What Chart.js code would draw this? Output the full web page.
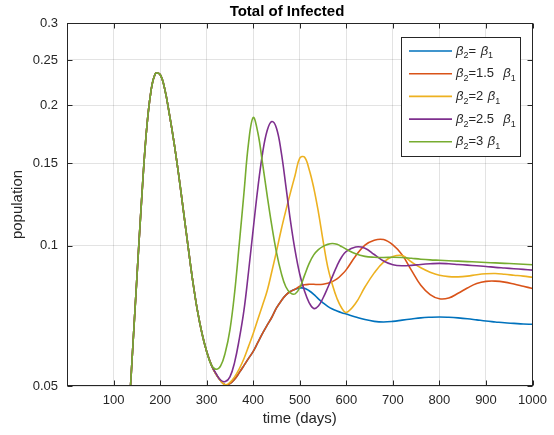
<!DOCTYPE html>
<html>
<head>
<meta charset="utf-8">
<script src="https://cdn.jsdelivr.net/npm/chart.js@4"></script>
<style>
  body { margin: 0; background: #fff; }
  canvas { display: block; }
</style>
</head>
<body>
<canvas id="infectedChart" width="554" height="435"></canvas>
<script>
// time grid (days)
const days = [0, 50, 100, 120, 130, 140, 150, 160, 170, 180, 190, 200, 210, 220, 230, 240, 250, 260, 270, 280, 290, 300, 310,
  320, 330, 340, 350, 360, 370, 380, 390, 400, 410, 420, 430, 440, 450, 460, 470, 480, 490, 500, 510, 520, 530, 540, 550,
  560, 570, 580, 590, 600, 620, 640, 660, 680, 700, 720, 740, 760, 780, 800, 820, 840, 860, 880, 900, 920, 940, 960, 980, 1000];

// first wave is the same for every beta2 (t = 0 .. 310)
const firstWave = [0.002, 0.005, 0.015, 0.027, 0.0389, 0.0575, 0.0849, 0.1242, 0.1728, 0.2131, 0.2337, 0.2327, 0.2164,
  0.1910, 0.1660, 0.1415, 0.1188, 0.0997, 0.0841, 0.0727, 0.0648, 0.0593, 0.0555];

// t = 320 .. 1000
const beta1x = [0.0530, 0.0513, 0.0503, 0.0506, 0.0517, 0.0534, 0.0553, 0.0573, 0.0593, 0.0620, 0.0648, 0.0675, 0.0702,
  0.0735, 0.0761, 0.0783, 0.0797, 0.0806, 0.0811, 0.0810, 0.0800, 0.0786, 0.0769, 0.0754, 0.0741, 0.0731, 0.0724, 0.0718,
  0.0713, 0.0703, 0.0694, 0.0688, 0.0686, 0.0688, 0.0692, 0.0696, 0.0700, 0.0702, 0.0703, 0.0702, 0.0700, 0.0697, 0.0693,
  0.0689, 0.0686, 0.0683, 0.0681, 0.0679, 0.0678];
const beta15x = [0.0530, 0.0513, 0.0503, 0.0506, 0.0517, 0.0534, 0.0553, 0.0573, 0.0593, 0.0620, 0.0648, 0.0675, 0.0702,
  0.0735, 0.0761, 0.0783, 0.0797, 0.0806, 0.0818, 0.0824, 0.0826, 0.0826, 0.0825, 0.0826, 0.0830, 0.0837, 0.0848, 0.0866,
  0.0888, 0.0950, 0.1002, 0.1027, 0.1030, 0.1003, 0.0955, 0.0885, 0.0822, 0.0785, 0.0769, 0.0772, 0.0790, 0.0811, 0.0829,
  0.0838, 0.0839, 0.0835, 0.0827, 0.0818, 0.0809];
const beta2x = [0.0530, 0.0513, 0.0503, 0.0509, 0.0523, 0.0544, 0.0572, 0.0608, 0.0648, 0.0695, 0.0745, 0.0800, 0.0880,
  0.0972, 0.1080, 0.1188, 0.1299, 0.1415, 0.1540, 0.1548, 0.1458, 0.1330, 0.1180, 0.1025, 0.0900, 0.0825, 0.0770, 0.0735,
  0.0719, 0.0752, 0.0815, 0.0874, 0.0922, 0.0947, 0.0952, 0.0922, 0.0896, 0.0877, 0.0864, 0.0858, 0.0857, 0.0860, 0.0866,
  0.0870, 0.0871, 0.0868, 0.0864, 0.0860, 0.0855];
const beta25x = [0.0532, 0.0515, 0.0511, 0.0523, 0.0562, 0.0630, 0.0725, 0.0880, 0.1085, 0.1330, 0.1575, 0.1765, 0.1845,
  0.1785, 0.1590, 0.1345, 0.1130, 0.0975, 0.0868, 0.0800, 0.0755, 0.0733, 0.0742, 0.0772, 0.0812, 0.0858, 0.0905, 0.0945,
  0.0972, 0.0993, 0.0987, 0.0957, 0.0927, 0.0910, 0.0905, 0.0907, 0.0911, 0.0914, 0.0916, 0.0914, 0.0911, 0.0908, 0.0905,
  0.0902, 0.0898, 0.0895, 0.0892, 0.0889, 0.0886];
const beta3x = [0.0543, 0.0552, 0.0590, 0.0660, 0.0792, 0.1007, 0.1293, 0.1660, 0.1881, 0.1745, 0.1502, 0.1280, 0.1102,
  0.0967, 0.0875, 0.0816, 0.0792, 0.0788, 0.0812, 0.0862, 0.0915, 0.0955, 0.0980, 0.0996, 0.1006, 0.1010, 0.1006, 0.0995,
  0.0982, 0.0960, 0.0948, 0.0944, 0.0943, 0.0944, 0.0943, 0.0939, 0.0935, 0.0932, 0.0930, 0.0928, 0.0926, 0.0924, 0.0922,
  0.0920, 0.0918, 0.0916, 0.0914, 0.0912, 0.0910];

const seriesNames = ['β_2= β_1', 'β_2=1.5  β_1', 'β_2=2 β_1', 'β_2=2.5  β_1', 'β_2=3 β_1'];
const seriesColors = ['#0072BD', '#D95319', '#EDB120', '#7E2F8E', '#77AC30'];
const seriesTails = [beta1x, beta15x, beta2x, beta25x, beta3x];

const xTicks = [100, 200, 300, 400, 500, 600, 700, 800, 900, 1000];
const yTicks = [0.05, 0.1, 0.15, 0.2, 0.25, 0.3];
const yTickLabels = ['0.05', '0.1', '0.15', '0.2', '0.25', '0.3'];

const AXIS = '#262626';
const FONT = '"Liberation Sans", Arial, sans-serif';

const datasets = seriesNames.map((name, i) => {
  const vals = firstWave.concat(seriesTails[i]);
  return {
    label: name,
    data: days.map((d, k) => ({ x: d, y: vals[k] })),
    borderColor: seriesColors[i],
    borderWidth: 1.6,
    pointRadius: 0,
    fill: false,
    tension: 0.4,
    order: seriesNames.length - i, // last series drawn on top, like MATLAB
  };
});

// MATLAB style box with inward ticks, title and legend
const matlabBox = {
  id: 'matlabBox',
  afterDatasetsDraw(chart) {
    const { ctx, chartArea: a, scales } = chart;
    ctx.save();
    ctx.strokeStyle = AXIS;
    ctx.lineWidth = 1;
    const L = Math.round(a.left) + 0.5, R = Math.round(a.right) - 0.5;
    const T = Math.round(a.top) + 0.5, B = Math.round(a.bottom) - 0.5;
    ctx.strokeRect(L, T, R - L, B - T);
    ctx.beginPath();
    xTicks.forEach(v => {
      const x = Math.round(scales.x.getPixelForValue(v)) + 0.5;
      ctx.moveTo(x, B); ctx.lineTo(x, B - 5);
      ctx.moveTo(x, T); ctx.lineTo(x, T + 5);
    });
    yTicks.forEach(v => {
      const y = Math.round(scales.y.getPixelForValue(v)) + 0.5;
      ctx.moveTo(L, y); ctx.lineTo(L + 5, y);
      ctx.moveTo(R, y); ctx.lineTo(R - 5, y);
    });
    ctx.stroke();

    // title
    ctx.fillStyle = '#000';
    ctx.font = 'bold 15px ' + FONT;
    ctx.textAlign = 'center';
    ctx.textBaseline = 'middle';
    ctx.fillText('Total of Infected', 287, 12);

    // legend
    const lw = 119, lh = 119;
    const lx = Math.round(a.right) - 13 - lw, ly = Math.round(a.top) + 14;
    ctx.fillStyle = '#fff';
    ctx.fillRect(lx, ly, lw, lh);
    ctx.strokeStyle = AXIS;
    ctx.strokeRect(lx + 0.5, ly + 0.5, lw, lh);
    ctx.textAlign = 'left';
    seriesNames.forEach((name, i) => {
      const y = ly + 14 + i * 22.7;
      ctx.strokeStyle = seriesColors[i];
      ctx.lineWidth = 1.6;
      ctx.beginPath();
      ctx.moveTo(lx + 8, y); ctx.lineTo(lx + 51, y);
      ctx.stroke();
      let x = lx + 55;
      ctx.fillStyle = AXIS;
      for (let k = 0; k < name.length; k++) {
        const c = name[k];
        if (c === '_') {
          k++;
          ctx.font = '9px ' + FONT;
          ctx.fillText(name[k], x, y + 5);
          x += ctx.measureText(name[k]).width;
        } else {
          ctx.font = (c === 'β' ? 'italic ' : '') + '13px ' + FONT;
          ctx.fillText(c, x, y);
          x += ctx.measureText(c).width + (c === ' ' ? 1 : 0);
        }
      }
    });
    ctx.restore();
  },
};

new Chart(document.getElementById('infectedChart').getContext('2d'), {
  type: 'line',
  data: { datasets },
  options: {
    responsive: false,
    animation: false,
    layout: { padding: { top: 23, right: 20, bottom: 0, left: 0 } },
    plugins: { legend: { display: false }, title: { display: false }, tooltip: { enabled: false } },
    scales: {
      x: {
        type: 'linear',
        min: 0,
        max: 1000,
        afterFit: s => { s.height = 49; },
        afterBuildTicks: s => { s.ticks = xTicks.map(v => ({ value: v })); },
        grid: { color: 'rgba(38,38,38,0.13)', drawTicks: false },
        border: { display: false },
        ticks: { color: AXIS, font: { family: FONT, size: 13 }, padding: 7, maxRotation: 0, callback: v => String(v) },
        title: { display: true, text: 'time (days)', color: AXIS, font: { family: FONT, size: 15 }, padding: { top: 0, bottom: 7 } },
      },
      y: {
        type: 'logarithmic',
        min: 0.05,
        max: 0.3,
        afterFit: s => { s.width = 67; },
        afterBuildTicks: s => { s.ticks = yTicks.map(v => ({ value: v })); },
        grid: { color: 'rgba(38,38,38,0.13)', drawTicks: false },
        border: { display: false },
        ticks: {
          color: AXIS,
          font: { family: FONT, size: 13 },
          padding: 9,
          callback: v => yTickLabels[yTicks.indexOf(v)] ?? '',
        },
        title: { display: true, text: 'population', color: AXIS, font: { family: FONT, size: 15 }, padding: { top: 9, bottom: 0 } },
      },
    },
  },
  plugins: [matlabBox],
});
</script>
</body>
</html>
